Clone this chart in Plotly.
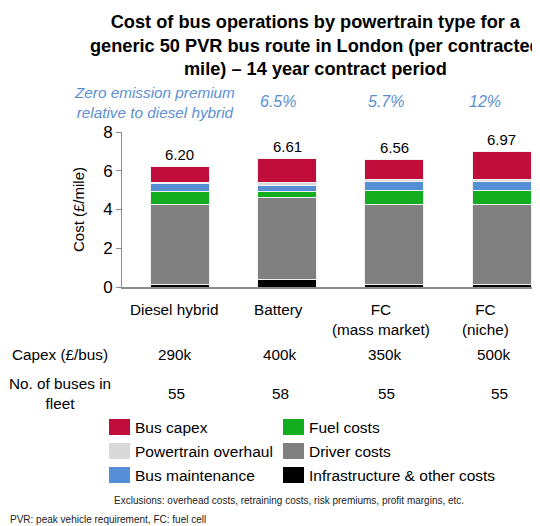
import plotly.graph_objects as go

categories = ["Diesel hybrid", "Battery", "FC<br>(mass market)", "FC<br>(niche)"]
infra = [0.12, 0.38, 0.15, 0.15]
driver = [4.13, 4.23, 4.10, 4.10]
fuel = [0.68, 0.32, 0.72, 0.72]
maint = [0.43, 0.30, 0.45, 0.45]
overhaul = [0.02, 0.17, 0.13, 0.13]
capex = [0.82, 1.21, 1.01, 1.42]
totals = [6.20, 6.61, 6.56, 6.97]
premium = ["", "6.5%", "5.7%", "12%"]
capex_per_bus = ["290k", "400k", "350k", "500k"]
fleet = ["55", "58", "55", "55"]

series_names = ["Infrastructure & other costs", "Driver costs", "Fuel costs",
                "Bus maintenance", "Powertrain overhaul", "Bus capex"]
series_vals = [infra, driver, fuel, maint, overhaul, capex]
series_cols = ["#000000", "#808080", "#14AD1F", "#558ED5", "#D9D9D9", "#C00D3C"]

FONT = "Liberation Sans, Arial, sans-serif"
OFF = 8  # page offset of the figure inside the window
W, H = 540, 526
L, R, T, B = 122 - OFF, 0, 132 - OFF, H - (287 - OFF)
PW, PH = W - L - R, H - T - B

def px(x):
    return (x - OFF - L) / PW

def py(y):
    return (T + PH - (y - OFF)) / PH

xs = list(range(len(categories)))
fig = go.Figure()
for name, vals, col in zip(series_names, series_vals, series_cols):
    fig.add_trace(go.Bar(x=xs, y=vals, name=name, marker_color=col,
                         marker_line=dict(color="#F2F2F2", width=1),
                         width=0.55, showlegend=False))

ann = []
for xv, tv in zip(xs, totals):
    ann.append(dict(x=xv, y=tv, xref="x", yref="y", text=f"{tv:.2f}",
                    showarrow=False, yanchor="bottom", yshift=2,
                    font=dict(size=15, family=FONT, color="#000")))

ann.append(dict(x=px(315), y=py(46), xref="paper", yref="paper",
                text="<b>Cost of bus operations by powertrain type for a<br>generic 50 PVR bus route in London (per contracted<br>mile) \u2013 14 year contract period</b>",
                showarrow=False, font=dict(size=18.2, family=FONT, color="#000"),
                xanchor="center", yanchor="middle", align="center"))
blue = "#5B8FD4"
ann.append(dict(x=px(154), y=py(102), xref="paper", yref="paper",
                text="<i>Zero emission premium<br>relative to diesel hybrid</i>",
                showarrow=False, font=dict(size=15.3, family=FONT, color=blue),
                xanchor="center", yanchor="middle", align="center"))
prem_x = [180, 278, 386, 485]
for p, xp in zip(premium, prem_x):
    if p:
        ann.append(dict(x=px(xp), y=py(101), xref="paper", yref="paper",
                        text=f"<i>{p}</i>", showarrow=False,
                        font=dict(size=16, family=FONT, color=blue),
                        xanchor="center", yanchor="middle"))
cat_x = [174, 278, 381, 485]
for c, xp in zip(categories, cat_x):
    ann.append(dict(x=px(xp), y=py(299), xref="paper", yref="paper",
                    text=c, showarrow=False, font=dict(size=15.3, family=FONT, color="#000"),
                    xanchor="center", yanchor="top", align="center"))
capex_x = [175, 280, 385, 494]
fleet_x = [176, 280, 386, 499]
ann.append(dict(x=px(60), y=py(354), xref="paper", yref="paper",
                text="Capex (\u00a3/bus)", showarrow=False,
                font=dict(size=15.3, family=FONT, color="#000"),
                xanchor="center", yanchor="middle"))
for v, xp in zip(capex_per_bus, capex_x):
    ann.append(dict(x=px(xp), y=py(354), xref="paper", yref="paper",
                    text=v, showarrow=False, font=dict(size=15.3, family=FONT, color="#000"),
                    xanchor="center", yanchor="middle"))
ann.append(dict(x=px(60), y=py(393), xref="paper", yref="paper",
                text="No. of buses in<br>fleet", showarrow=False,
                font=dict(size=15.3, family=FONT, color="#000"),
                xanchor="center", yanchor="middle", align="center"))
for v, xp in zip(fleet, fleet_x):
    ann.append(dict(x=px(xp), y=py(393), xref="paper", yref="paper",
                    text=v, showarrow=False, font=dict(size=15.3, family=FONT, color="#000"),
                    xanchor="center", yanchor="middle"))
ann.append(dict(x=px(78), y=py(210), xref="paper", yref="paper",
                text="Cost (\u00a3/mile)", textangle=-90, showarrow=False,
                font=dict(size=15, family=FONT, color="#000"),
                xanchor="center", yanchor="middle"))

shapes = []
legend_order = ["Bus capex", "Powertrain overhaul", "Bus maintenance",
                "Fuel costs", "Driver costs", "Infrastructure & other costs"]
col_lookup = dict(zip(series_names, series_cols))
for i, name in enumerate(legend_order):
    cx = 109 if i < 3 else 283
    cy = [427, 451, 475][i % 3]
    shapes.append(dict(type="rect", xref="paper", yref="paper",
                       x0=px(cx), x1=px(cx + 21), y0=py(cy + 8), y1=py(cy - 8),
                       fillcolor=col_lookup[name], line=dict(width=0)))
    ann.append(dict(x=px(cx + 24), y=py(cy), xref="paper", yref="paper",
                    text=name, showarrow=False,
                    font=dict(size=15.5, family=FONT, color="#000"),
                    xanchor="left", yanchor="middle"))

ann.append(dict(x=px(289), y=py(500), xref="paper", yref="paper",
                text="Exclusions: overhead costs, retraining costs, risk premiums, profit margins, etc.",
                showarrow=False, font=dict(size=10, family=FONT, color="#222"),
                xanchor="center", yanchor="middle"))
ann.append(dict(x=px(8), y=py(520), xref="paper", yref="paper",
                text="PVR: peak vehicle requirement, FC: fuel cell",
                showarrow=False, font=dict(size=10, family=FONT, color="#222"),
                xanchor="left", yanchor="middle"))

fig.update_layout(
    width=W, height=H, margin=dict(l=L, r=R, t=T, b=B),
    barmode="stack",
    paper_bgcolor="white", plot_bgcolor="white",
    font=dict(family=FONT, color="#000"),
    annotations=ann, shapes=shapes,
    xaxis=dict(range=[-0.541, 3.433], showticklabels=False, showgrid=False,
               zeroline=False, showline=True, linecolor="#8C8C8C", linewidth=1.5,
               ticks=""),
    yaxis=dict(range=[0, 8], dtick=2, showgrid=False, zeroline=False,
               showline=True, linecolor="#8C8C8C", linewidth=1, ticks="outside",
               ticklen=5, tickcolor="#8C8C8C",
               tickfont=dict(size=17, family=FONT, color="#000")),
)

fig.write_html("out.html")
